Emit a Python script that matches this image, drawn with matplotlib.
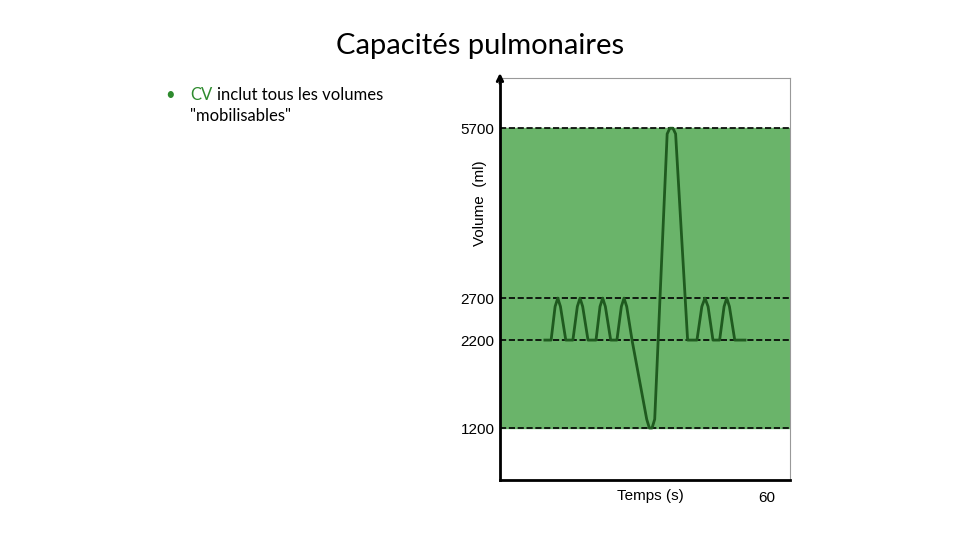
import numpy as np
import matplotlib
matplotlib.use("Agg")
import matplotlib.pyplot as plt

levels = [1200, 2200, 2700, 5700]
level_labels = ["1200", "2200", "2700", "5700"]
t = [10.1, 11.5, 12.4, 13.0, 13.6, 14.8, 16.4, 17.4, 18.0, 18.6, 19.8, 21.6, 22.5, 23.1, 23.7, 24.9, 26.3, 27.3, 27.9, 28.5, 29.7,
     33.0, 33.6, 34.2, 34.8, 37.6, 38.2, 38.9, 39.5, 42.2, 44.3, 45.4, 46.1, 46.8, 47.9, 49.4, 50.4, 51.0, 51.6, 52.8, 55.1]
vol = [2200, 2200, 2600, 2700, 2600, 2200, 2200, 2600, 2700, 2600, 2200, 2200, 2600, 2700, 2600, 2200, 2200, 2600, 2700, 2600, 2200,
       1300, 1200, 1200, 1300, 5600, 5700, 5700, 5600, 2200, 2200, 2600, 2700, 2600, 2200, 2200, 2600, 2700, 2600, 2200, 2200]

# piecewise scale matching the uneven spacing of the reference
kv = [610, 1200, 2200, 2700, 5700, 6582]
kp = [0, 52, 140, 182, 352, 402]
fwd = lambda v: np.interp(v, kv, kp, left=None, right=None)
inv = lambda p: np.interp(p, kp, kv)

fig = plt.figure(figsize=(9.6, 5.4), dpi=100)
fig.text(0.5, 0.915, "Capacités pulmonaires", ha="center", va="center", fontsize=21, family="Lato")
fig.text(0.172, 0.825, "•", color="#2e8b2e", fontsize=12, va="center", family="Lato")
fig.text(0.198, 0.825, "CV", color="#2e8b2e", fontsize=12, va="center", family="Lato")
fig.text(0.226, 0.825, "inclut tous les volumes", color="black", fontsize=12, va="center", family="Lato")
fig.text(0.198, 0.785, "\"mobilisables\"", color="black", fontsize=12, va="center", family="Lato")

ax = fig.add_axes([0.5208, 0.1111, 0.302, 0.744])
ax.set_yscale("function", functions=(fwd, inv))
ax.set_ylim(610, 6582)
ax.set_xlim(0, 65.2)
ax.axhspan(1200, 5700, color="#6ab46a", zorder=0)
for v in levels:
    ax.axhline(v, color="black", ls="--", lw=1.2, zorder=1)
ax.plot(t, vol, color="#1f5a1f", lw=2, zorder=2)
ax.set_yticks(levels)
ax.set_yticklabels(level_labels, family="Liberation Sans", fontsize=11)
ax.minorticks_off()
ax.set_xticks([])
ax.tick_params(axis="y", length=0, pad=4)
for s in ["left", "bottom"]:
    ax.spines[s].set_linewidth(2)
for s in ["top", "right"]:
    ax.spines[s].set_linewidth(0.8)
    ax.spines[s].set_color("#999999")
ax.annotate("", xy=(0, 1.02), xytext=(0, 0.98), xycoords="axes fraction",
            arrowprops=dict(arrowstyle="->", lw=2, color="black"), annotation_clip=False)
ax.text(-0.07, 0.69, "Volume  (ml)", rotation=90, transform=ax.transAxes, ha="center", va="center",
        family="Liberation Sans", fontsize=11)
ax.text(0.52, -0.04, "Temps (s)", transform=ax.transAxes, ha="center", va="center",
        family="Liberation Sans", fontsize=11)
ax.text(60, -0.045, "60", transform=ax.get_xaxis_transform(), ha="center", va="center",
        family="Liberation Sans", fontsize=11)
fig.savefig("out.png", dpi=100)
